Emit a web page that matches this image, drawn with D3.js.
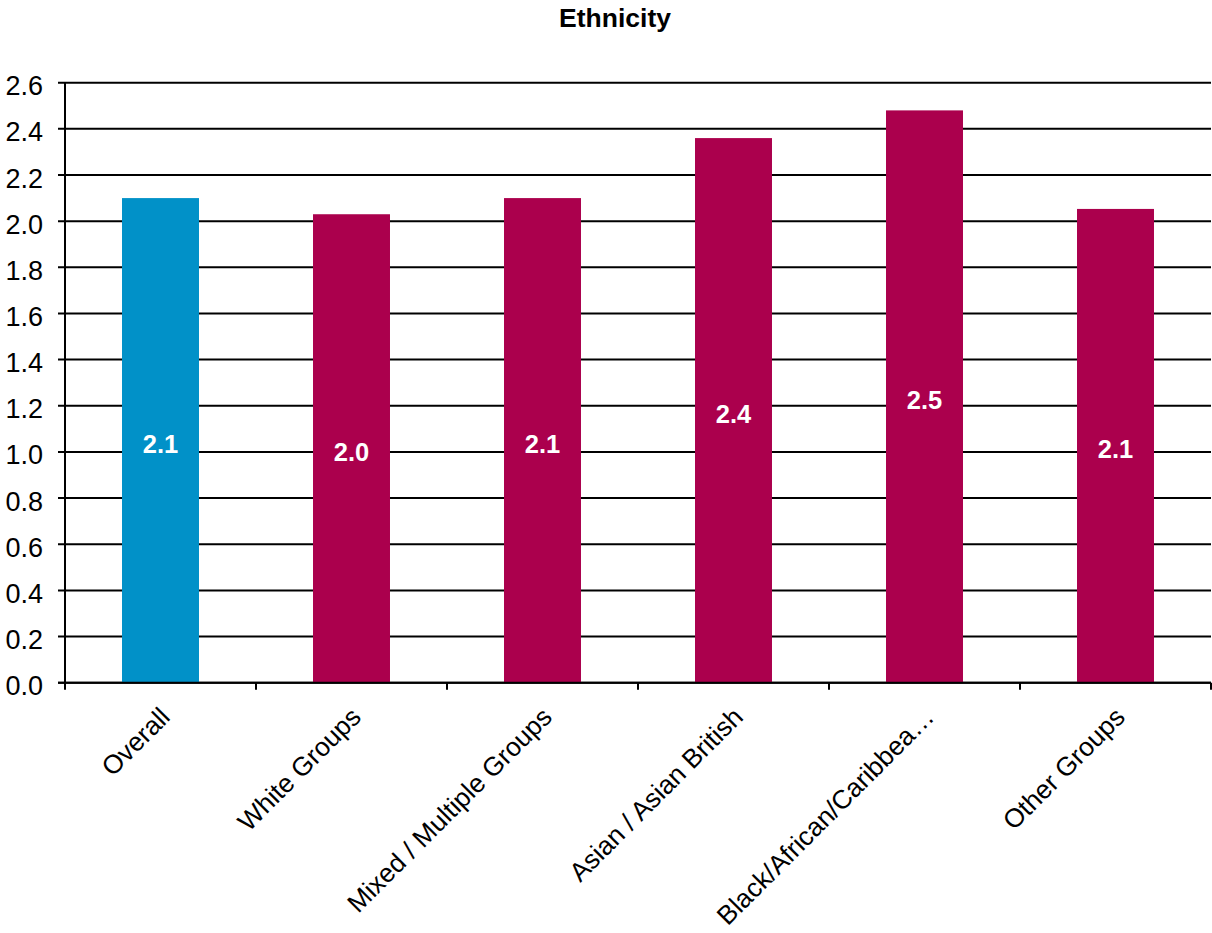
<!DOCTYPE html>
<html>
<head>
<meta charset="utf-8">
<script src="https://cdn.jsdelivr.net/npm/d3@7"></script>
<style>
  html, body { margin: 0; padding: 0; background: #fff; }
  svg { display: block; font-family: "Liberation Sans", Arial, sans-serif; }
</style>
</head>
<body>
<svg id="chart" width="1212" height="933"></svg>
<script>
// Average score by ethnic group
const categories = ["Overall", "White Groups", "Mixed / Multiple Groups", "Asian / Asian British", "Black/African/Caribbea\u2026", "Other Groups"];
const values = [2.10, 2.03, 2.10, 2.36, 2.48, 2.053];
const barColors = ["#0191C8", "#AB004D", "#AB004D", "#AB004D", "#AB004D", "#AB004D"];
const yTicks = [0, 0.2, 0.4, 0.6, 0.8, 1.0, 1.2, 1.4, 1.6, 1.8, 2.0, 2.2, 2.4, 2.6];
const title = "Ethnicity";

const svg = d3.select("#chart");
const plotLeft = 65, plotRight = 1211, plotTop = 82.7, plotBottom = 682.7;

const x = d3.scaleBand().domain(categories).range([plotLeft, plotRight])
  .paddingInner(0.597).paddingOuter(0.2985);
const xEdges = d3.scaleBand().domain(categories).range([plotLeft, plotRight]);
const y = d3.scaleLinear().domain([0, 2.6]).range([plotBottom, plotTop]);
const fmt = d3.format(".1f");

// title
svg.append("text")
  .attr("x", 615).attr("y", 27)
  .attr("text-anchor", "middle")
  .attr("font-size", 26.5).attr("font-weight", "bold")
  .text(title);

// gridlines with outward ticks
svg.append("g").selectAll("line").data(yTicks).join("line")
  .attr("x1", plotLeft - 7).attr("x2", plotRight)
  .attr("y1", d => y(d)).attr("y2", d => y(d))
  .attr("stroke", "#000").attr("stroke-width", 2);

// y tick labels
svg.append("g").selectAll("text").data(yTicks).join("text")
  .attr("x", 43).attr("y", d => y(d) + 12.5)
  .attr("text-anchor", "end")
  .attr("font-size", 27)
  .text(d => fmt(d));

// bars
svg.append("g").selectAll("rect").data(values).join("rect")
  .attr("x", (d, i) => x(categories[i]))
  .attr("width", x.bandwidth())
  .attr("y", d => y(d))
  .attr("height", d => y(0) - y(d))
  .attr("fill", (d, i) => barColors[i]);

// value labels inside bars
svg.append("g").selectAll("text").data(values).join("text")
  .attr("x", (d, i) => x(categories[i]) + x.bandwidth() / 2)
  .attr("y", d => (y(d) + y(0)) / 2 + 12.5)
  .attr("text-anchor", "middle")
  .attr("font-size", 25.5).attr("font-weight", "bold")
  .attr("fill", "#fff")
  .text(d => fmt(d));

// y axis line
svg.append("line")
  .attr("x1", plotLeft).attr("x2", plotLeft)
  .attr("y1", plotTop).attr("y2", plotBottom + 6)
  .attr("stroke", "#000").attr("stroke-width", 2);

// x axis line and category boundary ticks
svg.append("line")
  .attr("x1", plotLeft - 7).attr("x2", plotRight)
  .attr("y1", plotBottom).attr("y2", plotBottom)
  .attr("stroke", "#000").attr("stroke-width", 2);
const edges = categories.map(c => xEdges(c)).concat([plotRight]);
svg.append("g").selectAll("line").data(edges).join("line")
  .attr("x1", d => d).attr("x2", d => d)
  .attr("y1", plotBottom).attr("y2", plotBottom + 7)
  .attr("stroke", "#000").attr("stroke-width", 2);

// rotated category labels
svg.append("g").selectAll("text").data(categories).join("text")
  .attr("transform", d => {
    const cx = x(d) + x.bandwidth() / 2 + 11;
    return `translate(${cx},${plotBottom + 36}) rotate(-45)`;
  })
  .attr("text-anchor", "end")
  .attr("font-size", 26.3)
  .text(d => d);
</script>
</body>
</html>
